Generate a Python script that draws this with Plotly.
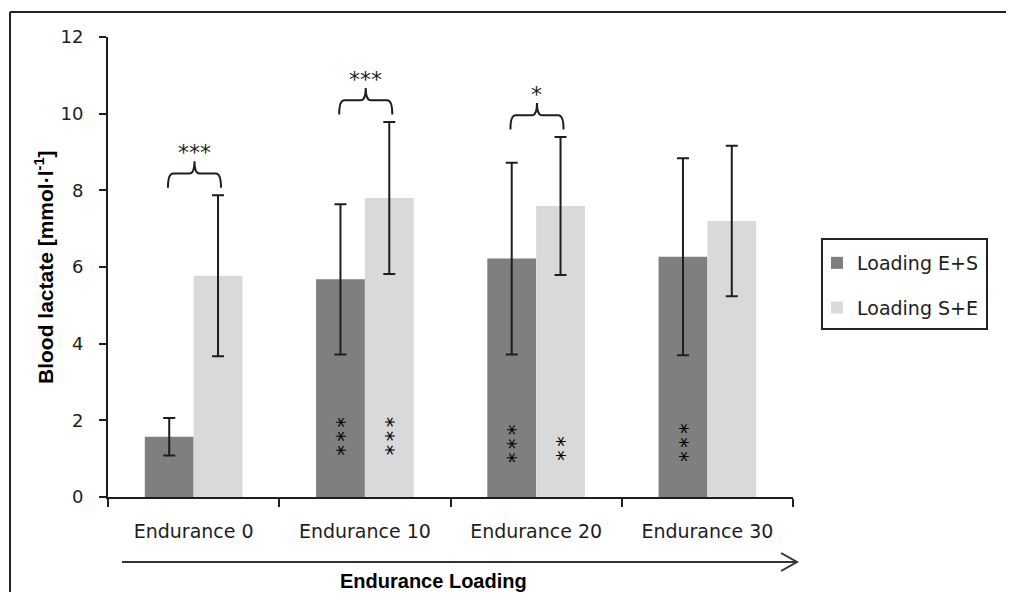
import plotly.graph_objects as go

# ---------------- data ----------------
categories = ["Endurance 0", "Endurance 10", "Endurance 20", "Endurance 30"]
series_names = ["Loading E+S", "Loading S+E"]
es_mean = [1.57, 5.68, 6.22, 6.27]
es_sd = [0.49, 1.96, 2.50, 2.57]
se_mean = [5.77, 7.80, 7.59, 7.20]
se_sd = [2.10, 1.98, 1.80, 1.96]
y_ticks = [0, 2, 4, 6, 8, 10, 12]
between_sig = ["***", "***", "*", ""]        # E+S vs S+E per category
within_sig_es = [0, 3, 3, 3]                  # stars inside E+S bars
within_sig_se = [0, 3, 2, 0]                  # stars inside S+E bars

# ---------------- layout constants (reference pixels) ----------------
OFF = 8  # page body margin
W, H = 1014 - OFF, 600 - 2 * OFF
L, R, T, B = 108, 793, 37, 497
PW, PH = R - L, B - T
def px(p): return (p - L) / PW
def py(p): return (B - p) / PH

DARK = "#7f7f7f"
LIGHT = "#d9d9d9"
INK = "#1e1e1e"
FONT = "DejaVu Sans, Verdana, sans-serif"
BOLD = "Liberation Sans, Arial, sans-serif"

x = list(range(len(categories)))

fig = go.Figure()
fig.add_trace(go.Bar(
    x=x, y=es_mean, name=series_names[0], marker=dict(color=DARK, line=dict(width=0)),
    error_y=dict(type="data", array=es_sd, visible=True, thickness=2, width=6, color=INK),
    legendgroup="a",
))
fig.add_trace(go.Bar(
    x=x, y=se_mean, name=series_names[1], marker=dict(color=LIGHT, line=dict(width=0)),
    error_y=dict(type="data", array=se_sd, visible=True, thickness=2, width=6, color=INK),
    legendgroup="b",
))

shapes = []
annotations = []

# brackets with significance above the S+E error bars
for i, sig in enumerate(between_sig):
    if not sig:
        continue
    base = se_mean[i] + se_sd[i]
    y_end = base + 0.20
    y_h = base + 0.57
    y_pk = base + 0.89
    x0, x1, xc = i - 0.15, i + 0.16, i + 0.005
    dx = 0.03
    path = (f"M {x0},{y_end} Q {x0},{y_h} {x0+dx},{y_h} L {xc-dx},{y_h} "
            f"Q {xc},{y_h} {xc},{y_pk} Q {xc},{y_h} {xc+dx},{y_h} "
            f"L {x1-dx},{y_h} Q {x1},{y_h} {x1},{y_end}")
    shapes.append(dict(type="path", path=path, xref="x", yref="y",
                       line=dict(color=INK, width=2)))
    annotations.append(dict(x=xc, y=y_pk, xref="x", yref="y", text=sig, showarrow=False,
                            yanchor="bottom", yshift=-6,
                            font=dict(family=FONT, size=22, color=INK)))

# stacked stars inside bars (rotated star strings)
bar_off = 0.1425
stack_center = [None, 1.59, 1.40, 1.44]
stack_center_se = [None, 1.59, 1.27, None]
for i in range(len(categories)):
    for n, off, cen in ((within_sig_es[i], -bar_off, stack_center[i]),
                        (within_sig_se[i], bar_off, stack_center_se[i])):
        if n:
            annotations.append(dict(
                x=i + off, y=cen, xref="x", yref="y",
                text="\u2006".join(["*"] * n), textangle=-90, showarrow=False,
                xshift=5,
                font=dict(family=FONT, size=21, color="#000")))

# y-axis title
annotations.append(dict(x=px(44), y=py(267), xref="paper", yref="paper",
                        text="<b>Blood lactate [mmol·l<sup>-1</sup>]</b>", textangle=-90,
                        showarrow=False, xanchor="center", yanchor="middle",
                        font=dict(family=BOLD, size=21, color="#000")))
# x-axis title
annotations.append(dict(x=px(433), y=py(581), xref="paper", yref="paper",
                        text="<b>Endurance Loading</b>", showarrow=False,
                        xanchor="center", yanchor="middle",
                        font=dict(family=BOLD, size=20, color="#000")))

# arrow below the categories
shapes.append(dict(type="line", xref="paper", yref="paper",
                   x0=px(122), x1=px(797), y0=py(562), y1=py(562),
                   line=dict(color="#333", width=2)))
shapes.append(dict(type="path", xref="paper", yref="paper",
                   path=f"M {px(781)},{py(553)} L {px(797)},{py(562)} L {px(781)},{py(571)}",
                   line=dict(color="#333", width=2)))

# outer frame (top and left edges; the rest lies beyond the picture)
shapes.append(dict(type="line", xref="paper", yref="paper",
                   x0=px(10), x1=px(1040), y0=py(12), y1=py(12),
                   line=dict(color="#222", width=2)))
shapes.append(dict(type="line", xref="paper", yref="paper",
                   x0=px(10), x1=px(10), y0=py(12), y1=py(640),
                   line=dict(color="#222", width=2)))
# legend box
shapes.append(dict(type="rect", xref="paper", yref="paper",
                   x0=px(822), x1=px(987), y0=py(329), y1=py(239),
                   line=dict(color="#222", width=2), fillcolor="rgba(0,0,0,0)"))

fig.update_layout(
    width=W, height=H,
    margin=dict(l=L - OFF, r=W - (R - OFF), t=T - OFF, b=H - (B - OFF), pad=0),
    paper_bgcolor="white", plot_bgcolor="white",
    barmode="group", bargap=0.43, bargroupgap=0,
    showlegend=True,
    legend=dict(x=px(817), y=py(244), xanchor="left", yanchor="top",
                font=dict(family=FONT, size=19, color=INK),
                bgcolor="rgba(0,0,0,0)", borderwidth=0,
                traceorder="grouped", tracegroupgap=17),
    shapes=shapes, annotations=annotations,
    xaxis=dict(range=[-0.5, 3.5], tickmode="array", tickvals=x, ticktext=categories,
               ticks="", showgrid=False, zeroline=False,
               showline=True, linecolor=INK, linewidth=2,
               ticklabelstandoff=16,
               tickfont=dict(family=FONT, size=19, color=INK),
               minor=dict(tickmode="array", tickvals=[-0.5, 0.5, 1.5, 2.5, 3.5],
                          ticks="outside", ticklen=8, tickwidth=2, tickcolor=INK,
                          showgrid=False),
               fixedrange=True),
    yaxis=dict(range=[0, 12], tickmode="array", tickvals=y_ticks,
               ticks="outside", ticklen=7, tickwidth=2, tickcolor=INK,
               showgrid=False, zeroline=False,
               showline=True, linecolor=INK, linewidth=2,
               ticklabelstandoff=12,
               tickfont=dict(family=FONT, size=18, color=INK),
               fixedrange=True),
)

fig.write_html("out.html", config={"displayModeBar": False})
